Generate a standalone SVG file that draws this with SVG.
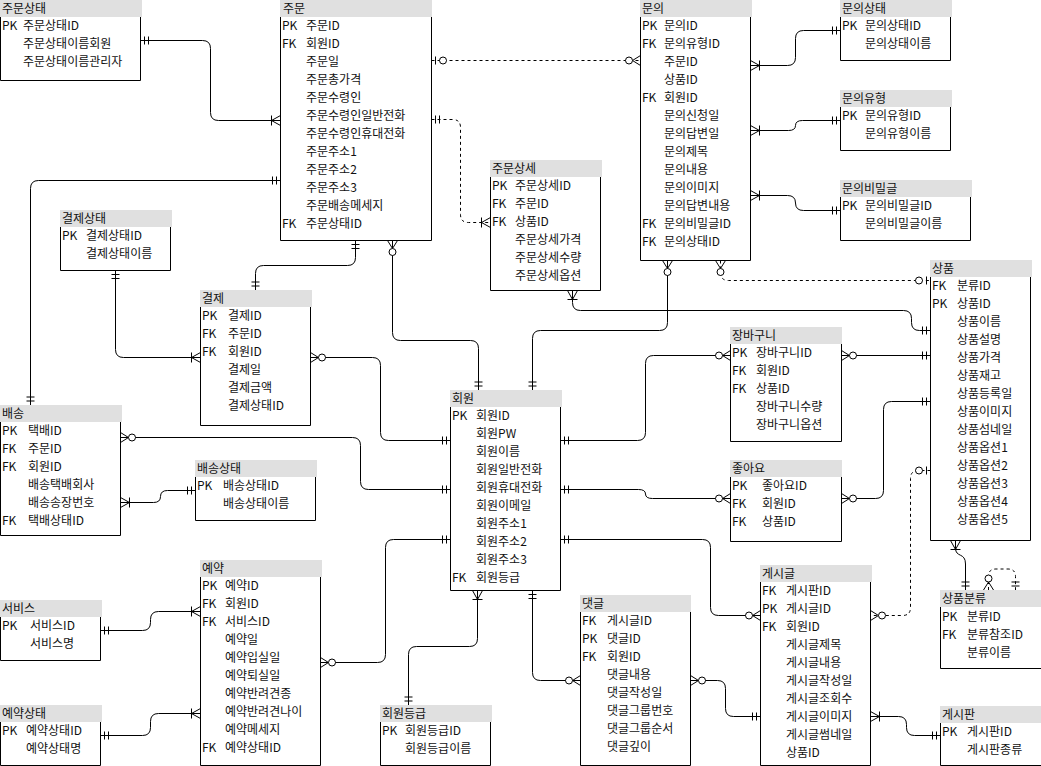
<svg xmlns="http://www.w3.org/2000/svg" width="1041" height="766" viewBox="0 0 1041 766">
<style>
.h{fill:#e0e0e0}
.b{fill:#fff;stroke:#000;stroke-width:1}
text{font-family:"Noto Sans CJK KR","Noto Sans",sans-serif;font-size:12px;fill:#111}
.c{fill:none;stroke:#000;stroke-width:1}
.d{stroke-dasharray:3 3}
.m{fill:none;stroke:#000;stroke-width:1}
.o{fill:#fff;stroke:#000;stroke-width:1}
.c1{marker-start:url(#one)}
</style>
<defs>
<marker id="one" markerUnits="userSpaceOnUse" orient="auto-start-reverse" overflow="visible" markerWidth="1" markerHeight="1"><path class="m" d="M-4,-4V4M-8,-4V4"/></marker>
<marker id="many1" markerUnits="userSpaceOnUse" orient="auto-start-reverse" overflow="visible" markerWidth="1" markerHeight="1"><path class="m" d="M0,-5L-9,0L0,5M-9,-5V5"/></marker>
<marker id="many0" markerUnits="userSpaceOnUse" orient="auto-start-reverse" overflow="visible" markerWidth="1" markerHeight="1"><path class="m" d="M0,-5L-8,0L0,5"/><circle class="o" cx="-11.5" cy="0" r="3.5"/></marker>
<marker id="zone" markerUnits="userSpaceOnUse" orient="auto-start-reverse" overflow="visible" markerWidth="1" markerHeight="1"><path class="m" d="M-4,-4V4"/><circle class="o" cx="-11.5" cy="0" r="3.5"/></marker>
</defs>
<rect width="1041" height="766" fill="#fff"/>

<g id="n-orderstatus">
<rect class="h" x="0" y="0" width="142" height="17"/>
<path class="b" d="M0.5,17V80.5H140.5V17"/>
<text x="2" y="13">주문상태</text>
<text x="2" y="30">PK</text><text x="23" y="30">주문상태ID</text>
<text x="23" y="48">주문상태이름회원</text>
<text x="23" y="66">주문상태이름관리자</text>
</g>

<g id="n-order">
<rect class="h" x="280" y="0" width="152" height="17"/>
<path class="b" d="M280.5,17V240.5H431.5V17"/>
<text x="283" y="13">주문</text>
<text x="282" y="30">PK</text><text x="306" y="30">주문ID</text>
<text x="282" y="48">FK</text><text x="306" y="48">회원ID</text>
<text x="306" y="66">주문일</text>
<text x="306" y="84">주문총가격</text>
<text x="306" y="102">주문수령인</text>
<text x="306" y="120">주문수령인일반전화</text>
<text x="306" y="138">주문수령인휴대전화</text>
<text x="306" y="156">주문주소1</text>
<text x="306" y="174">주문주소2</text>
<text x="306" y="192">주문주소3</text>
<text x="306" y="210">주문배송메세지</text>
<text x="282" y="228">FK</text><text x="306" y="228">주문상태ID</text>
</g>

<g id="n-inquiry">
<rect class="h" x="640" y="0" width="112" height="17"/>
<path class="b" d="M640.5,17V260.5H750.5V17"/>
<text x="642" y="13">문의</text>
<text x="642" y="30">PK</text><text x="664" y="30">문의ID</text>
<text x="642" y="48">FK</text><text x="664" y="48">문의유형ID</text>
<text x="664" y="66">주문ID</text>
<text x="664" y="84">상품ID</text>
<text x="642" y="102">FK</text><text x="664" y="102">회원ID</text>
<text x="664" y="120">문의신청일</text>
<text x="664" y="138">문의답변일</text>
<text x="664" y="156">문의제목</text>
<text x="664" y="174">문의내용</text>
<text x="664" y="192">문의이미지</text>
<text x="664" y="210">문의답변내용</text>
<text x="642" y="228">FK</text><text x="664" y="228">문의비밀글ID</text>
<text x="642" y="246">FK</text><text x="664" y="246">문의상태ID</text>
</g>

<g id="n-inquirystatus">
<rect class="h" x="840" y="0" width="112" height="17"/>
<path class="b" d="M840.5,17V60.5H950.5V17"/>
<text x="842" y="13">문의상태</text>
<text x="842" y="30">PK</text><text x="865" y="30">문의상태ID</text>
<text x="865" y="48">문의상태이름</text>
</g>

<g id="n-inquirytype">
<rect class="h" x="840" y="90" width="112" height="17"/>
<path class="b" d="M840.5,107V150.5H950.5V107"/>
<text x="842" y="103">문의유형</text>
<text x="842" y="120">PK</text><text x="865" y="120">문의유형ID</text>
<text x="865" y="138">문의유형이름</text>
</g>

<g id="n-inquirysecret">
<rect class="h" x="840" y="180" width="132" height="17"/>
<path class="b" d="M840.5,197V240.5H970.5V197"/>
<text x="842" y="193">문의비밀글</text>
<text x="842" y="210">PK</text><text x="865" y="210">문의비밀글ID</text>
<text x="865" y="228">문의비밀글이름</text>
</g>

<g id="n-orderdetail">
<rect class="h" x="490" y="160" width="112" height="17"/>
<path class="b" d="M490.5,177V290.5H600.5V177"/>
<text x="492" y="173">주문상세</text>
<text x="492" y="190">PK</text><text x="515" y="190">주문상세ID</text>
<text x="492" y="208">FK</text><text x="515" y="208">주문ID</text>
<text x="492" y="226">FK</text><text x="515" y="226">상품ID</text>
<text x="515" y="244">주문상세가격</text>
<text x="515" y="262">주문상세수량</text>
<text x="515" y="280">주문상세옵션</text>
</g>

<g id="n-paystatus">
<rect class="h" x="60" y="210" width="112" height="17"/>
<path class="b" d="M60.5,227V270.5H170.5V227"/>
<text x="62" y="223">결제상태</text>
<text x="62" y="240">PK</text><text x="86" y="240">결제상태ID</text>
<text x="86" y="258">결제상태이름</text>
</g>

<g id="n-payment">
<rect class="h" x="200" y="290" width="112" height="17"/>
<path class="b" d="M200.5,307V425.5H310.5V307"/>
<text x="202" y="303">결제</text>
<text x="202" y="320">PK</text><text x="228" y="320">결제ID</text>
<text x="202" y="338">FK</text><text x="228" y="338">주문ID</text>
<text x="202" y="356">FK</text><text x="228" y="356">회원ID</text>
<text x="228" y="374">결제일</text>
<text x="228" y="392">결제금액</text>
<text x="228" y="410">결제상태ID</text>
</g>

<g id="n-delivery">
<rect class="h" x="0" y="405" width="122" height="17"/>
<path class="b" d="M0.5,422V535.5H120.5V422"/>
<text x="2" y="418">배송</text>
<text x="2" y="435">PK</text><text x="28" y="435">택배ID</text>
<text x="2" y="453">FK</text><text x="28" y="453">주문ID</text>
<text x="2" y="471">FK</text><text x="28" y="471">회원ID</text>
<text x="28" y="489">배송택배회사</text>
<text x="28" y="507">배송송장번호</text>
<text x="2" y="525">FK</text><text x="28" y="525">택배상태ID</text>
</g>

<g id="n-deliverystatus">
<rect class="h" x="195" y="460" width="122" height="17"/>
<path class="b" d="M195.5,477V520.5H315.5V477"/>
<text x="197" y="473">배송상태</text>
<text x="197" y="490">PK</text><text x="223" y="490">배송상태ID</text>
<text x="223" y="508">배송상태이름</text>
</g>

<g id="n-member">
<rect class="h" x="450" y="390" width="112" height="17"/>
<path class="b" d="M450.5,407V590.5H560.5V407"/>
<text x="452" y="403">회원</text>
<text x="452" y="420">PK</text><text x="476" y="420">회원ID</text>
<text x="476" y="438">회원PW</text>
<text x="476" y="456">회원이름</text>
<text x="476" y="474">회원일반전화</text>
<text x="476" y="492">회원휴대전화</text>
<text x="476" y="510">회원이메일</text>
<text x="476" y="528">회원주소1</text>
<text x="476" y="546">회원주소2</text>
<text x="476" y="564">회원주소3</text>
<text x="452" y="582">FK</text><text x="476" y="582">회원등급</text>
</g>

<g id="n-cart">
<rect class="h" x="730" y="327" width="112" height="17"/>
<path class="b" d="M730.5,344V441.5H841.5V344"/>
<text x="732" y="340">장바구니</text>
<text x="732" y="357">PK</text><text x="756" y="357">장바구니ID</text>
<text x="732" y="375">FK</text><text x="756" y="375">회원ID</text>
<text x="732" y="393">FK</text><text x="756" y="393">상품ID</text>
<text x="756" y="411">장바구니수량</text>
<text x="756" y="429">장바구니옵션</text>
</g>

<g id="n-like">
<rect class="h" x="730" y="460" width="112" height="17"/>
<path class="b" d="M730.5,477V541.5H841.5V477"/>
<text x="732" y="473">좋아요</text>
<text x="732" y="490">PK</text><text x="762" y="490">좋아요ID</text>
<text x="732" y="508">FK</text><text x="762" y="508">회원ID</text>
<text x="732" y="526">FK</text><text x="762" y="526">상품ID</text>
</g>

<g id="n-product">
<rect class="h" x="930" y="260" width="102" height="17"/>
<path class="b" d="M930.5,277V540.5H1030.5V277"/>
<text x="932" y="273">상품</text>
<text x="932" y="290">FK</text><text x="957" y="290">분류ID</text>
<text x="932" y="308">PK</text><text x="957" y="308">상품ID</text>
<text x="957" y="326">상품이름</text>
<text x="957" y="344">상품설명</text>
<text x="957" y="362">상품가격</text>
<text x="957" y="380">상품재고</text>
<text x="957" y="398">상품등록일</text>
<text x="957" y="416">상품이미지</text>
<text x="957" y="434">상품섬네일</text>
<text x="957" y="452">상품옵션1</text>
<text x="957" y="470">상품옵션2</text>
<text x="957" y="488">상품옵션3</text>
<text x="957" y="506">상품옵션4</text>
<text x="957" y="524">상품옵션5</text>
</g>

<g id="n-reservation">
<rect class="h" x="200" y="560" width="122" height="17"/>
<path class="b" d="M200.5,577V765.5H320.5V577"/>
<text x="202" y="573">예약</text>
<text x="202" y="590">PK</text><text x="225" y="590">예약ID</text>
<text x="202" y="608">FK</text><text x="225" y="608">회원ID</text>
<text x="202" y="626">FK</text><text x="225" y="626">서비스ID</text>
<text x="225" y="644">예약일</text>
<text x="225" y="662">예약입실일</text>
<text x="225" y="680">예약퇴실일</text>
<text x="225" y="698">예약반려견종</text>
<text x="225" y="716">예약반려견나이</text>
<text x="225" y="734">예약메세지</text>
<text x="202" y="752">FK</text><text x="225" y="752">예약상태ID</text>
</g>

<g id="n-service">
<rect class="h" x="0" y="600" width="102" height="17"/>
<path class="b" d="M0.5,617V660.5H100.5V617"/>
<text x="2" y="613">서비스</text>
<text x="2" y="630">PK</text><text x="30" y="630">서비스ID</text>
<text x="30" y="648">서비스명</text>
</g>

<g id="n-reservationstatus">
<rect class="h" x="0" y="705" width="102" height="17"/>
<path class="b" d="M0.5,722V765.5H100.5V722"/>
<text x="2" y="718">예약상태</text>
<text x="2" y="735">PK</text><text x="26" y="735">예약상태ID</text>
<text x="26" y="753">예약상태명</text>
</g>

<g id="n-membergrade">
<rect class="h" x="380" y="705" width="112" height="17"/>
<path class="b" d="M380.5,722V765.5H490.5V722"/>
<text x="382" y="718">회원등급</text>
<text x="382" y="735">PK</text><text x="405" y="735">회원등급ID</text>
<text x="405" y="753">회원등급이름</text>
</g>

<g id="n-comment">
<rect class="h" x="580" y="595" width="111" height="17"/>
<path class="b" d="M580.5,612V765.5H690.5V612"/>
<text x="582" y="608">댓글</text>
<text x="582" y="625">FK</text><text x="607" y="625">게시글ID</text>
<text x="582" y="643">PK</text><text x="607" y="643">댓글ID</text>
<text x="582" y="661">FK</text><text x="607" y="661">회원ID</text>
<text x="607" y="679">댓글내용</text>
<text x="607" y="697">댓글작성일</text>
<text x="607" y="715">댓글그룹번호</text>
<text x="607" y="733">댓글그룹순서</text>
<text x="607" y="751">댓글깊이</text>
</g>

<g id="n-post">
<rect class="h" x="760" y="565" width="112" height="17"/>
<path class="b" d="M760.5,582V765.5H870.5V582"/>
<text x="762" y="578">게시글</text>
<text x="762" y="595">FK</text><text x="786" y="595">게시판ID</text>
<text x="762" y="613">PK</text><text x="786" y="613">게시글ID</text>
<text x="762" y="631">FK</text><text x="786" y="631">회원ID</text>
<text x="786" y="649">게시글제목</text>
<text x="786" y="667">게시글내용</text>
<text x="786" y="685">게시글작성일</text>
<text x="786" y="703">게시글조회수</text>
<text x="786" y="721">게시글이미지</text>
<text x="786" y="739">게시글썸네일</text>
<text x="786" y="757">상품ID</text>
</g>

<g id="n-category">
<rect class="h" x="940" y="590" width="110" height="17"/>
<path class="b" d="M940.5,607V668.5H1050"/>
<text x="942" y="603">상품분류</text>
<text x="942" y="621">PK</text><text x="967" y="621">분류ID</text>
<text x="942" y="639">FK</text><text x="967" y="639">분류참조ID</text>
<text x="967" y="657">분류이름</text>
</g>

<g id="n-board">
<rect class="h" x="940" y="706" width="110" height="17"/>
<path class="b" d="M940.5,723V765.5H1050"/>
<text x="942" y="719">게시판</text>
<text x="942" y="736">PK</text><text x="967" y="736">게시판ID</text>
<text x="967" y="754">게시판종류</text>
</g>

<g id="connectors">
<path class="c" marker-start="url(#one)" marker-end="url(#many1)" d="M140.5,40.5H202.5Q210.5,40.5 210.5,48.5V112.5Q210.5,120.5 218.5,120.5H280.5"/>
<path class="c" marker-start="url(#one)" marker-end="url(#one)" d="M280.5,180.5H38.5Q30.5,180.5 30.5,188.5V405"/>
<path class="c d" marker-start="url(#zone)" marker-end="url(#many0)" d="M431.5,60.5H640.5"/>
<path class="c d" marker-start="url(#one)" marker-end="url(#many1)" d="M431.5,119.5H452.5Q460.5,119.5 460.5,127.5V214.5Q460.5,222.5 468.5,222.5H490.5"/>
<path class="c" marker-start="url(#one)" marker-end="url(#one)" d="M355.5,240.5V257.5Q355.5,265.5 347.5,265.5H263.5Q255.5,265.5 255.5,273.5V290"/>
<path class="c" marker-start="url(#many0)" marker-end="url(#one)" d="M392.5,240.5V332.5Q392.5,340.5 400.5,340.5H470.5Q478.5,340.5 478.5,348.5V390"/>
<path class="c" marker-start="url(#many0)" marker-end="url(#one)" d="M667.5,260.5V322.5Q667.5,330.5 659.5,330.5H540.5Q532.5,330.5 532.5,338.5V390"/>
<path class="c" marker-start="url(#many1)" marker-end="url(#one)" d="M572.5,290.5V302.5Q572.5,310.5 580.5,310.5H903.5Q911.5,310.5 911.5,318.5V322.5Q911.5,330.5 919.5,330.5H930.5"/>
<path class="c d" marker-start="url(#many0)" marker-end="url(#zone)" d="M720.5,260.5V272.5Q720.5,280.5 728.5,280.5H930.5"/>
<path class="c" marker-start="url(#many1)" marker-end="url(#one)" d="M750.5,65.5H787.5Q795.5,65.5 795.5,57.5V38.5Q795.5,30.5 803.5,30.5H840.5"/>
<path class="c" marker-start="url(#many1)" marker-end="url(#one)" d="M750.5,130.5H788.5Q795.5,130.5 795.5,125.5Q795.5,120.5 802.5,120.5H840.5"/>
<path class="c" marker-start="url(#many1)" marker-end="url(#one)" d="M750.5,195.5H787.5Q795.5,195.5 795.5,203Q795.5,210.5 803.5,210.5H840.5"/>
<path class="c" marker-start="url(#one)" marker-end="url(#many1)" d="M115.5,270.5V349.5Q115.5,357.5 123.5,357.5H200.5"/>
<path class="c" marker-start="url(#many0)" marker-end="url(#one)" d="M310.5,357.5H372.5Q380.5,357.5 380.5,365.5V432.5Q380.5,440.5 388.5,440.5H450.5"/>
<path class="c" marker-start="url(#many0)" marker-end="url(#one)" d="M120.5,437.5H352.5Q360.5,437.5 360.5,445.5V481.5Q360.5,489.5 368.5,489.5H450.5"/>
<path class="c" marker-start="url(#many1)" marker-end="url(#one)" d="M120.5,502.5H153.5Q160.5,502.5 160.5,496.5Q160.5,490.5 167.5,490.5H195.5"/>
<path class="c" marker-start="url(#one)" marker-end="url(#many0)" d="M450.5,539.5H393.5Q385.5,539.5 385.5,547.5V654.5Q385.5,662.5 377.5,662.5H320.5"/>
<path class="c" marker-start="url(#one)" marker-end="url(#many0)" d="M560.5,440.5H637.5Q645.5,440.5 645.5,432.5V363.5Q645.5,355.5 653.5,355.5H730.5"/>
<path class="c" marker-start="url(#one)" marker-end="url(#many0)" d="M560.5,489.5H638.5Q645.5,489.5 645.5,494Q645.5,498.5 652.5,498.5H730.5"/>
<path class="c" marker-start="url(#one)" marker-end="url(#many0)" d="M560.5,539.5H702.5Q710.5,539.5 710.5,547.5V607.5Q710.5,615.5 718.5,615.5H760.5"/>
<path class="c" marker-start="url(#many1)" marker-end="url(#one)" d="M477.5,590.5V638.5Q477.5,646.5 469.5,646.5H416.5Q408.5,646.5 408.5,654.5V705"/>
<path class="c" marker-start="url(#one)" marker-end="url(#many0)" d="M532.5,590.5V672.5Q532.5,680.5 540.5,680.5H580.5"/>
<path class="c" marker-start="url(#many0)" marker-end="url(#one)" d="M841.5,498.5H875.5Q883.5,498.5 883.5,490.5V409.5Q883.5,401.5 891.5,401.5H930.5"/>
<path class="c" marker-start="url(#many0)" marker-end="url(#one)" d="M841.5,355.5H930.5"/>
<path class="c d" marker-start="url(#zone)" marker-end="url(#many0)" d="M930.5,470.5H918.5Q910.5,470.5 910.5,478.5V607.5Q910.5,615.5 902.5,615.5H870.5"/>
<path class="c" marker-start="url(#many1)" marker-end="url(#one)" d="M955.5,540.5V548C955.5,558 965.5,552 965.5,564V590"/>
<path class="c d" marker-start="url(#many0)" marker-end="url(#one)" d="M988.5,590V576Q988.5,569 996,569H1008Q1015.5,569 1015.5,576.5V590"/>
<path class="c" marker-start="url(#many1)" marker-end="url(#one)" d="M870.5,716.5H898.5Q906.5,716.5 906.5,724.5V727.5Q906.5,735.5 914.5,735.5H940.5"/>
<path class="c" marker-start="url(#many0)" marker-end="url(#one)" d="M690.5,680.5H717.5Q725.5,680.5 725.5,688.5V708.5Q725.5,716.5 733.5,716.5H760.5"/>
<path class="c" marker-start="url(#one)" marker-end="url(#many1)" d="M100.5,630.5H142.5Q150.5,630.5 150.5,622.5V619.5Q150.5,611.5 158.5,611.5H200.5"/>
<path class="c" marker-start="url(#one)" marker-end="url(#many1)" d="M100.5,735.5H142.5Q150.5,735.5 150.5,727.5V721.5Q150.5,713.5 158.5,713.5H200.5"/>
</g>
</svg>
